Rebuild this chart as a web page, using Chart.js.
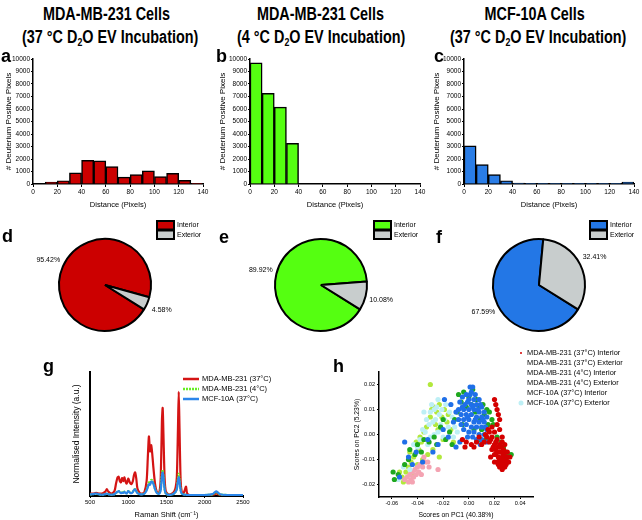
<!DOCTYPE html>
<html lang="en">
<head>
<meta charset="utf-8">
<title>D2O EV incubation - Raman figure</title>
<script src="https://cdn.jsdelivr.net/npm/chart.js@4.4.0/dist/chart.umd.min.js"></script>
<style>
  body { margin: 0; background: #fff; }
  #fig { position: relative; width: 642px; height: 520px; overflow: hidden; font-family: "Liberation Sans", Arial, sans-serif; color: #000; }
  #fig canvas { position: absolute; }
  .ttl { position: absolute; top: 3px; width: 214px; text-align: center; font-weight: bold; font-size: 18px; line-height: 23px; white-space: nowrap; }
  .ttl span { display: inline-block; transform: scaleX(0.8); }
  .ttl sub { font-size: 11px; vertical-align: -3px; line-height: 0; }
  .lbl { position: absolute; font-weight: bold; font-size: 18px; line-height: 18px; }
</style>
</head>
<body>
<div id="fig">
  <div class="ttl" style="left:0"><span>MDA-MB-231 Cells</span><br><span>(37 °C D<sub>2</sub>O EV Incubation)</span></div>
  <div class="ttl" style="left:214px"><span>MDA-MB-231 Cells</span><br><span>(4 °C D<sub>2</sub>O EV Incubation)</span></div>
  <div class="ttl" style="left:428px"><span>MCF-10A Cells</span><br><span>(37 °C D<sub>2</sub>O EV Incubation)</span></div>

  <canvas id="histA" width="214" height="165" style="left:0;top:50px"></canvas>
  <canvas id="histB" width="214" height="165" style="left:214px;top:50px"></canvas>
  <canvas id="histC" width="214" height="165" style="left:428px;top:50px"></canvas>
  <canvas id="pieD" width="214" height="130" style="left:0;top:215px"></canvas>
  <canvas id="pieE" width="214" height="130" style="left:214px;top:215px"></canvas>
  <canvas id="pieF" width="214" height="130" style="left:428px;top:215px"></canvas>
  <canvas id="spectra" width="300" height="160" style="left:0;top:360px"></canvas>
  <canvas id="pca" width="342" height="180" style="left:300px;top:340px"></canvas>

  <div class="lbl" style="left:1px;top:47px">a</div>
  <div class="lbl" style="left:216px;top:47px">b</div>
  <div class="lbl" style="left:434px;top:47px">c</div>
  <div class="lbl" style="left:2px;top:227px">d</div>
  <div class="lbl" style="left:219px;top:228px">e</div>
  <div class="lbl" style="left:436px;top:228px">f</div>
  <div class="lbl" style="left:43px;top:357px">g</div>
  <div class="lbl" style="left:333px;top:357px">h</div>
</div>

<script>
  Chart.defaults.font.family = '"Liberation Sans", Arial, sans-serif';
  Chart.defaults.color = '#000';

  // histograms (bins of 10 px)
  var binCentres = [5, 15, 25, 35, 45, 55, 65, 75, 85, 95, 105, 115, 125, 135];
  var countsMda37 = [40, 150, 250, 900, 1900, 1850, 1400, 550, 750, 1050, 600, 850, 300, 30];
  var countsMda4 = [9700, 7250, 6150, 3250, 0, 0, 0, 0, 0, 0, 0, 0, 0, 0];
  var countsMcf = [3050, 1550, 750, 250, 80, 20, 20, 50, 10, 20, 10, 10, 50, 150];

  // pies
  var sliceLabels = ['Interior', 'Exterior'];
  var shareMda37 = [95.42, 4.58];
  var shareMda4 = [89.92, 10.08];
  var shareMcf = [67.59, 32.41];

  // raman spectra
  var ramanShift = [500, 540, 580, 620, 660, 700, 720, 740, 780, 820, 840, 860, 875, 890, 905, 920, 935, 950, 965, 980,
    1000, 1020, 1040, 1060, 1075, 1090, 1105, 1120, 1150, 1180, 1210, 1240, 1255, 1270, 1285, 1300, 1315, 1330, 1350, 1370,
    1390, 1410, 1425, 1440, 1450, 1460, 1475, 1490, 1520, 1560, 1600, 1620, 1635, 1650, 1660, 1670, 1685, 1700, 1720, 1740,
    1755, 1770, 1800, 1900, 2000, 2100, 2130, 2150, 2170, 2200, 2300, 2400, 2500];
  var specMda37 = [0.02, 0.02, 0.025, 0.02, 0.02, 0.035, 0.055, 0.035, 0.02, 0.04, 0.1, 0.15, 0.155, 0.12, 0.11, 0.145, 0.12, 0.15, 0.115, 0.1,
    0.14, 0.11, 0.095, 0.12, 0.17, 0.19, 0.14, 0.06, 0.025, 0.02, 0.03, 0.12, 0.3, 0.48, 0.36, 0.41, 0.33, 0.22, 0.1, 0.04,
    0.025, 0.04, 0.15, 0.6, 0.71, 0.5, 0.15, 0.04, 0.015, 0.015, 0.035, 0.07, 0.15, 0.55, 0.84, 0.55, 0.12, 0.03, 0.02, 0.05,
    0.075, 0.02, 0.008, 0.008, 0.008, 0.01, 0.015, 0.02, 0.015, 0.01, 0.008, 0.008, 0.008];
  var specMda4 = [0.012, 0.015, 0.018, 0.012, 0.01, 0.015, 0.02, 0.015, 0.01, 0.015, 0.025, 0.035, 0.04, 0.03, 0.025, 0.03, 0.025, 0.035, 0.028, 0.022,
    0.04, 0.03, 0.025, 0.035, 0.05, 0.055, 0.04, 0.025, 0.015, 0.015, 0.02, 0.05, 0.08, 0.11, 0.1, 0.13, 0.125, 0.1, 0.06, 0.03,
    0.02, 0.025, 0.06, 0.18, 0.21, 0.16, 0.06, 0.02, 0.01, 0.01, 0.02, 0.035, 0.06, 0.14, 0.18, 0.14, 0.05, 0.02, 0.012, 0.012,
    0.01, 0.008, 0.008, 0.008, 0.008, 0.012, 0.025, 0.03, 0.025, 0.012, 0.008, 0.008, 0.008];
  var specMcf = [0.012, 0.015, 0.02, 0.013, 0.01, 0.015, 0.02, 0.014, 0.01, 0.015, 0.025, 0.035, 0.04, 0.03, 0.022, 0.028, 0.025, 0.033, 0.025, 0.02,
    0.04, 0.028, 0.022, 0.032, 0.048, 0.052, 0.038, 0.022, 0.015, 0.013, 0.018, 0.045, 0.07, 0.095, 0.09, 0.115, 0.115, 0.095, 0.055, 0.028,
    0.018, 0.022, 0.05, 0.16, 0.19, 0.15, 0.055, 0.02, 0.01, 0.01, 0.02, 0.035, 0.055, 0.12, 0.155, 0.12, 0.045, 0.018, 0.012, 0.01,
    0.01, 0.008, 0.008, 0.008, 0.008, 0.015, 0.03, 0.038, 0.03, 0.014, 0.008, 0.008, 0.008];
  var specLabels = ['MDA-MB-231 (37°C)', 'MDA-MB-231 (4°C)', 'MCF-10A (37°C)'];
  var ramanTicks = [500, 1000, 1500, 2000, 2500];

  // PCA scores [PC1, PC2]
  var pcaLabels = ['MDA-MB-231 (37°C) Interior', 'MDA-MB-231 (37°C) Exterior', 'MDA-MB-231 (4°C) Interior',
    'MDA-MB-231 (4°C) Exterior', 'MCF-10A (37°C) Interior', 'MCF-10A (37°C) Exterior'];
  var pcaMda37In = [[0.020, 0.014], [0.021, 0.012], [0.022, 0.010], [0.023, 0.008], [0.024, 0.006], [0.022, 0.004], [0.018, 0.003],
    [0.016, 0.001], [0.020, 0.001], [0.024, 0.002], [0.014, -0.001], [0.018, -0.001], [0.022, -0.002], [0.026, -0.001],
    [0.012, -0.003], [0.016, -0.003], [0.020, -0.004], [0.024, -0.004], [0.028, -0.004], [0.018, -0.006], [0.021, -0.006],
    [0.024, -0.007], [0.027, -0.006], [0.030, -0.007], [0.020, -0.008], [0.023, -0.009], [0.026, -0.009], [0.029, -0.009],
    [0.032, -0.009], [0.022, -0.011], [0.025, -0.011], [0.028, -0.011], [0.031, -0.011], [0.024, -0.013], [0.027, -0.013],
    [0.029, -0.012], [0.026, -0.014], [0.010, -0.004], [0.006, -0.003], [0.002, -0.004], [-0.002, -0.003], [-0.005, -0.002],
    [-0.003, -0.005], [0.004, -0.005], [0.008, -0.001], [0.013, 0.000], [0.017, -0.009], [0.020, -0.011], [0.023, -0.012],
    [0.025, -0.005], [0.027, -0.008], [0.029, -0.010], [0.025, -0.012], [0.028, -0.013], [0.021, -0.008], [0.026, -0.003],
    [0.023, -0.005], [0.025, -0.007], [0.022, -0.007], [0.027, -0.010], [0.024, -0.010], [0.019, -0.005], [0.030, -0.009],
    [0.028, -0.007], [0.026, -0.012], [0.021, -0.003], [0.017, -0.002], [0.015, 0.002]];
  var pcaMda37Ex = [[-0.050, -0.018], [-0.048, -0.017], [-0.046, -0.016], [-0.045, -0.018], [-0.044, -0.015], [-0.043, -0.017],
    [-0.042, -0.014], [-0.041, -0.016], [-0.040, -0.013], [-0.039, -0.015], [-0.038, -0.012], [-0.036, -0.013], [-0.034, -0.011],
    [-0.032, -0.011], [-0.031, -0.013], [-0.024, -0.014], [-0.047, -0.019], [-0.044, -0.019], [-0.037, -0.016], [-0.035, -0.009]];
  var pcaMda4In = [[-0.059, -0.015], [-0.058, -0.018], [-0.055, -0.016], [-0.050, -0.012], [-0.047, -0.010], [-0.046, -0.006],
    [-0.042, -0.008], [-0.040, -0.004], [-0.037, -0.007], [-0.035, -0.002], [-0.031, -0.003], [-0.027, -0.001], [-0.022, 0.003],
    [-0.018, -0.002], [-0.015, 0.001], [-0.013, -0.004], [-0.011, 0.006], [-0.009, 0.009], [-0.008, 0.016], [-0.006, 0.013],
    [-0.004, 0.017], [-0.002, 0.011], [0.000, 0.015], [0.002, 0.012], [0.003, 0.018], [0.005, 0.009], [0.006, 0.014],
    [0.008, 0.011], [0.009, 0.006], [0.011, 0.012], [0.012, 0.008], [0.014, 0.010], [0.016, 0.009], [0.018, 0.006],
    [0.010, 0.002], [0.013, -0.002], [0.015, 0.004], [0.008, -0.002], [0.004, 0.002], [0.022, -0.001], [0.025, -0.003],
    [0.027, -0.005], [0.029, -0.007], [0.031, -0.008], [0.033, -0.008], [0.030, -0.011], [0.019, 0.004], [-0.005, 0.004],
    [-0.020, 0.006], [-0.025, -0.004]];
  var pcaMda4Ex = [[-0.030, 0.020], [-0.027, 0.011], [-0.025, 0.009], [-0.023, 0.012], [-0.021, 0.007], [-0.019, 0.010],
    [-0.017, 0.005], [-0.026, 0.004], [-0.024, 0.002], [-0.030, 0.007], [-0.033, 0.003], [-0.035, 0.001], [-0.037, -0.003],
    [-0.039, -0.006], [-0.041, -0.003], [-0.043, -0.009], [-0.045, -0.011], [-0.047, -0.013], [-0.049, -0.015], [-0.051, -0.019],
    [-0.052, -0.017], [-0.054, -0.015], [-0.044, -0.016], [-0.040, -0.012], [-0.036, -0.010], [-0.032, -0.008], [-0.028, -0.006],
    [-0.023, -0.009], [-0.020, -0.002], [-0.014, 0.002], [-0.012, -0.003], [-0.016, 0.008], [-0.029, 0.010], [-0.038, -0.001],
    [-0.046, -0.007]];
  var pcaMcfIn = [[0.001, 0.019], [0.003, 0.019], [0.002, 0.017], [-0.002, 0.016], [0.005, 0.016], [-0.005, 0.015], [0.000, 0.014],
    [0.004, 0.014], [0.008, 0.014], [-0.007, 0.013], [-0.003, 0.012], [0.002, 0.012], [0.006, 0.012], [0.010, 0.011],
    [-0.008, 0.010], [-0.004, 0.010], [0.000, 0.010], [0.004, 0.010], [0.008, 0.009], [0.012, 0.009], [-0.006, 0.008],
    [-0.002, 0.008], [0.002, 0.008], [0.006, 0.007], [0.010, 0.007], [0.014, 0.007], [-0.008, 0.006], [-0.004, 0.006],
    [0.000, 0.006], [0.004, 0.005], [0.008, 0.005], [0.012, 0.005], [-0.006, 0.004], [-0.002, 0.004], [0.002, 0.003],
    [0.006, 0.003], [0.010, 0.003], [0.014, 0.002], [-0.004, 0.002], [0.000, 0.001], [0.004, 0.001], [0.008, 0.000],
    [0.012, 0.000], [0.006, -0.002], [0.010, -0.002], [0.014, -0.003], [0.009, -0.004], [-0.001, -0.001], [-0.010, 0.009],
    [-0.012, 0.005], [-0.014, 0.012], [-0.019, 0.014], [-0.020, 0.002], [-0.024, -0.004], [-0.007, -0.003], [-0.010, -0.005],
    [-0.032, -0.002], [-0.036, -0.011], [-0.041, -0.007], [-0.047, -0.009], [-0.050, -0.003], [-0.054, -0.017], [-0.044, -0.012],
    [-0.028, -0.007], [-0.016, -0.001], [0.001, 0.016], [-0.001, 0.013], [0.003, 0.011], [0.007, 0.010], [-0.005, 0.011],
    [0.011, 0.006], [0.005, 0.006], [-0.001, 0.007], [0.009, 0.012], [0.013, 0.003], [0.003, -0.001]];
  var pcaMcfEx = [[-0.029, 0.012], [-0.027, 0.010], [-0.030, 0.009], [-0.025, 0.011], [-0.023, 0.008], [-0.026, 0.006],
    [-0.028, 0.005], [-0.031, 0.004], [-0.033, 0.006], [-0.021, 0.010], [-0.019, 0.006], [-0.022, 0.004], [-0.024, 0.001],
    [-0.027, 0.000], [-0.030, -0.001], [-0.034, 0.001], [-0.036, 0.002], [-0.038, -0.002], [-0.016, 0.003], [-0.013, 0.007],
    [-0.011, 0.003], [-0.015, 0.009], [-0.018, 0.012], [-0.020, -0.001], [-0.040, -0.005], [-0.043, -0.004], [-0.051, -0.013],
    [-0.055, -0.018], [-0.046, -0.014], [-0.032, -0.004], [-0.009, 0.001], [-0.012, -0.001], [-0.035, 0.009], [-0.024, 0.014]];
  var pc1Ticks = [-0.06, -0.04, -0.02, 0, 0.02, 0.04];
  var pc2Ticks = [-0.02, -0.01, 0, 0.01, 0.02];

  var exteriorGrey = '#c8cdcd';

  function plainNumber(v) { return String(v); }

  function histogram(id, counts, colour, yWidth) {
    return new Chart(document.getElementById(id), {
      type: 'bar',
      data: {
        datasets: [{
          data: binCentres.map(function (c, i) { return { x: c, y: counts[i] }; }),
          backgroundColor: colour,
          borderColor: '#000',
          borderWidth: 1.5,
          barPercentage: 1,
          categoryPercentage: 1
        }]
      },
      options: {
        responsive: false,
        animation: false,
        devicePixelRatio: 1,
        layout: { padding: { top: 9, right: 214 - yWidth - 170, left: 0, bottom: 0 } },
        plugins: { legend: { display: false }, tooltip: { enabled: false } },
        scales: {
          x: {
            type: 'linear', min: 0, max: 140, offset: false,
            grid: { drawOnChartArea: false, offset: false, color: '#000', tickLength: 3 },
            border: { color: '#000', width: 1.5 },
            ticks: { stepSize: 20, font: { size: 6.5 }, padding: 1, maxRotation: 0, callback: plainNumber },
            title: { display: true, text: 'Distance (Pixels)', font: { size: 7.5 }, padding: { top: 0, bottom: 6 } },
            afterFit: function (s) { s.height = 31; }
          },
          y: {
            min: 0, max: 10000,
            grid: { drawOnChartArea: false, color: '#000', tickLength: 2 },
            border: { color: '#000', width: 1.5 },
            ticks: { stepSize: 1000, font: { size: 6.5 }, padding: 1, callback: plainNumber },
            title: { display: true, text: '# Deuterium Positive Pixels', font: { size: 8 }, padding: { top: 4, bottom: 0 } },
            afterFit: function (s) { s.width = yWidth; }
          }
        }
      }
    });
  }

  histogram('histA', countsMda37, '#cc0000', 33);
  histogram('histB', countsMda4, '#55ff11', 36);
  histogram('histC', countsMcf, '#2a7de6', 36);

  // percent labels and key for the pies
  function pieText(keyX) {
    return {
      id: 'pieText',
      afterDatasetsDraw: function (chart) {
        var ctx = chart.ctx;
        var ds = chart.data.datasets[0];
        var arcs = chart.getDatasetMeta(0).data;
        ctx.save();
        ctx.fillStyle = '#000';
        ctx.font = '7px "Liberation Sans", Arial, sans-serif';
        ctx.textAlign = 'center';
        ctx.textBaseline = 'middle';
        arcs.forEach(function (arc, i) {
          var p = arc.getProps(['x', 'y', 'startAngle', 'endAngle', 'outerRadius'], true);
          var mid = (p.startAngle + p.endAngle) / 2;
          var r = p.outerRadius + 16;
          ctx.fillText(ds.data[i].toFixed(2) + '%', p.x + Math.cos(mid) * r, p.y + Math.sin(mid) * r);
        });
        // key
        ctx.textAlign = 'left';
        chart.data.labels.forEach(function (lab, i) {
          var y = 6 + i * 9.5;
          ctx.fillStyle = ds.backgroundColor[i];
          ctx.fillRect(keyX, y, 17, 8.5);
          ctx.strokeStyle = '#000';
          ctx.lineWidth = 2;
          ctx.strokeRect(keyX, y, 17, 8.5);
          ctx.fillStyle = '#000';
          ctx.fillText(lab, keyX + 20, y + 4.5);
        });
        ctx.restore();
      }
    };
  }

  function pie(id, shares, colour, padLeft, padRight, keyX) {
    return new Chart(document.getElementById(id), {
      type: 'pie',
      data: {
        labels: sliceLabels,
        datasets: [{ data: shares, backgroundColor: [colour, exteriorGrey], borderColor: '#000', borderWidth: 2 }]
      },
      options: {
        responsive: false,
        animation: false,
        devicePixelRatio: 1,
        rotation: 122,
        layout: { padding: { left: padLeft, right: padRight, top: 23, bottom: 13 } },
        plugins: { legend: { display: false }, tooltip: { enabled: false } }
      },
      plugins: [pieText(keyX)]
    });
  }

  pie('pieD', shareMda37, '#cc0000', 58, 62, 157);
  pie('pieE', shareMda4, '#55ff11', 60, 60, 160);
  pie('pieF', shareMcf, '#2377e6', 64, 56, 162);

  // raman spectra
  var specColours = ['#d41414', '#66ee22', '#2b86ea'];
  var specKey = {
    id: 'specKey',
    afterDraw: function (chart) {
      var ctx = chart.ctx;
      ctx.save();
      ctx.font = '7.5px "Liberation Sans", Arial, sans-serif';
      ctx.textBaseline = 'middle';
      chart.data.datasets.forEach(function (ds, i) {
        var y = 19 + i * 10;
        ctx.strokeStyle = ds.borderColor;
        ctx.lineWidth = 2.5;
        ctx.setLineDash(ds.borderDash || []);
        ctx.beginPath();
        ctx.moveTo(183, y);
        ctx.lineTo(199, y);
        ctx.stroke();
        ctx.fillStyle = '#000';
        ctx.fillText(ds.label, 202, y);
      });
      ctx.restore();
    }
  };

  function spectrum(values) {
    return ramanShift.map(function (x, i) { return { x: x, y: values[i] }; });
  }

  new Chart(document.getElementById('spectra'), {
    type: 'line',
    data: {
      datasets: [
        { label: specLabels[0], data: spectrum(specMda37), borderColor: specColours[0], borderWidth: 2.2, order: 3 },
        { label: specLabels[1], data: spectrum(specMda4), borderColor: specColours[1], borderWidth: 2.2, borderDash: [2, 1], order: 2 },
        { label: specLabels[2], data: spectrum(specMcf), borderColor: specColours[2], borderWidth: 2.2, order: 1 }
      ]
    },
    options: {
      responsive: false,
      animation: false,
      devicePixelRatio: 1,
      elements: { point: { radius: 0 }, line: { tension: 0.25 } },
      layout: { padding: { left: 66, top: 12, right: 57, bottom: 0 } },
      plugins: { legend: { display: false }, tooltip: { enabled: false } },
      scales: {
        x: {
          type: 'linear', min: 500, max: 2500,
          grid: { drawOnChartArea: false, color: '#000', tickLength: 2 },
          border: { color: '#000', width: 2 },
          ticks: { font: { size: 6 }, padding: 1, maxRotation: 0, callback: plainNumber },
          afterBuildTicks: function (s) { s.ticks = ramanTicks.map(function (v) { return { value: v }; }); },
          title: { display: true, text: 'Raman Shift (cm⁻¹)', font: { size: 7.5 }, padding: { top: 0, bottom: 1 } },
          afterFit: function (s) { s.height = 24; }
        },
        y: {
          min: 0, max: 1,
          grid: { drawOnChartArea: false, drawTicks: false },
          border: { color: '#000', width: 2 },
          ticks: { display: false },
          title: { display: true, text: 'Normalised Intensity (a.u.)', font: { size: 8.5 }, padding: { top: 6, bottom: 0 } },
          afterFit: function (s) { s.width = 24; }
        }
      }
    },
    plugins: [specKey]
  });

  // PCA scores plot
  var pcaColours = ['#d40000', '#f4a3b2', '#1ea81e', '#b2e83c', '#1f6fe8', '#bdeff5'];
  var pcaKeyShown = [true, false, false, false, false, true];
  var pcaKey = {
    id: 'pcaKey',
    afterDraw: function (chart) {
      var ctx = chart.ctx;
      ctx.save();
      ctx.font = '7.4px "Liberation Sans", Arial, sans-serif';
      ctx.textBaseline = 'middle';
      chart.data.datasets.forEach(function (ds, i) {
        var y = 13 + i * 10;
        if (pcaKeyShown[i]) {
          ctx.fillStyle = ds.backgroundColor;
          ctx.beginPath();
          ctx.arc(221, y, i === 0 ? 1 : 2.5, 0, Math.PI * 2);
          ctx.fill();
        }
        ctx.fillStyle = '#000';
        ctx.fillText(ds.label, 227, y);
      });
      ctx.restore();
    }
  };

  function scores(pts) {
    return pts.map(function (p) { return { x: p[0], y: p[1] }; });
  }

  var pcaSets = [pcaMda37In, pcaMda37Ex, pcaMda4In, pcaMda4Ex, pcaMcfIn, pcaMcfEx];
  var pcaOrder = [0, 4, 2, 5, 1, 3];

  new Chart(document.getElementById('pca'), {
    type: 'scatter',
    data: {
      datasets: pcaSets.map(function (pts, i) {
        return {
          label: pcaLabels[i],
          data: scores(pts),
          backgroundColor: pcaColours[i],
          borderWidth: 0,
          pointRadius: 2.6,
          order: pcaOrder[i]
        };
      })
    },
    options: {
      responsive: false,
      animation: false,
      devicePixelRatio: 1,
      layout: { padding: { left: 52, top: 32, right: 109, bottom: 0 } },
      plugins: { legend: { display: false }, tooltip: { enabled: false } },
      scales: {
        x: {
          type: 'linear', min: -0.07, max: 0.05,
          grid: { drawOnChartArea: false, color: '#000', tickLength: 2 },
          border: { color: '#000', width: 1.5 },
          ticks: { font: { size: 5.6 }, padding: 1, maxRotation: 0, callback: function (v) { return v.toFixed(2); } },
          afterBuildTicks: function (s) { s.ticks = pc1Ticks.map(function (v) { return { value: v }; }); },
          title: { display: true, text: 'Scores on PC1 (40.38%)', font: { size: 6.8 }, padding: { top: 0, bottom: 1 } },
          afterFit: function (s) { s.height = 23; }
        },
        y: {
          type: 'linear', min: -0.025, max: 0.025,
          grid: { drawOnChartArea: false, color: '#000', tickLength: 2 },
          border: { color: '#000', width: 1.5 },
          ticks: { font: { size: 5.6 }, padding: 2, callback: function (v) { return v.toFixed(2); } },
          afterBuildTicks: function (s) { s.ticks = pc2Ticks.map(function (v) { return { value: v }; }); },
          title: { display: true, text: 'Scores on PC2 (5.23%)', font: { size: 6.8 }, padding: { top: 1, bottom: 0 } },
          afterFit: function (s) { s.width = 27; }
        }
      }
    },
    plugins: [pcaKey]
  });
</script>
</body>
</html>
